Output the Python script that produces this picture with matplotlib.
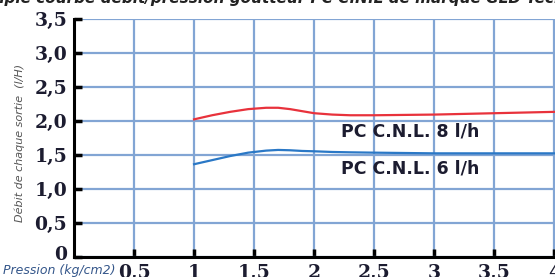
import matplotlib.pyplot as plt
import matplotlib.transforms as mtransforms
import numpy as np

# pressure (kg/cm2) and flow per outlet (l/h)
pression = [1.0, 1.15, 1.3, 1.45, 1.6, 1.7, 1.8, 1.9, 2.0, 2.15, 2.3, 2.5, 3.0, 3.5, 4.0]
debit_8 = [2.02, 2.08, 2.13, 2.17, 2.19, 2.19, 2.17, 2.14, 2.11, 2.09, 2.08, 2.08, 2.09, 2.11, 2.13]
debit_6 = [1.36, 1.42, 1.48, 1.53, 1.56, 1.57, 1.565, 1.555, 1.55, 1.54, 1.535, 1.53, 1.52, 1.52, 1.52]

xticks = [0.5, 1, 1.5, 2, 2.5, 3, 3.5, 4]
xlabels = ["0,5", "1", "1,5", "2", "2,5", "3", "3,5", "4"]
yticks = [0, 0.5, 1.0, 1.5, 2.0, 2.5, 3.0, 3.5]
ylabels = ["0", "0,5", "1,0", "1,5", "2,0", "2,5", "3,0", "3,5"]

gridc = '#82a5d4'
txtc = '#1c1c30'

fig = plt.figure(figsize=(5.55, 2.77), dpi=100)
ax = fig.add_axes([0.1333, 0.0733, 0.8667, 0.8592])

ax.plot(pression, debit_8, color='#e8323c', lw=1.6, zorder=3)
ax.plot(pression, debit_6, color='#2a78c6', lw=1.6, zorder=3)

ax.set_xlim(0, 4.005)
ax.set_ylim(0, 3.5)
ax.set_xticks(xticks)
ax.set_xticklabels(xlabels)
ax.set_yticks(yticks)
ax.set_yticklabels(ylabels)
ax.grid(True, color=gridc, lw=1.6, zorder=1)
ax.set_axisbelow(True)

for s in ['top', 'right']:
    ax.spines[s].set_visible(False)
for s in ['left', 'bottom']:
    ax.spines[s].set_linewidth(2.2)
    ax.spines[s].set_color('black')
    ax.spines[s].set_zorder(4)

ax.tick_params(direction='in', length=6, width=2.5, color='black', pad=5,
               labelsize=13.5, labelcolor=txtc)
for lab in ax.get_xticklabels() + ax.get_yticklabels():
    lab.set_family('DejaVu Serif')
    lab.set_weight('bold')

# the "0" label sits a little above the axis line
zero = ax.get_yticklabels()[0]
zero.set_transform(zero.get_transform() +
                   mtransforms.ScaledTranslation(0, 4 / 100, fig.dpi_scale_trans))

ax.text(2.22, 1.84, "PC C.N.L. 8 l/h", fontsize=12.5, weight='bold', color=txtc,
        va='center', ha='left', zorder=5)
ax.text(2.22, 1.30, "PC C.N.L. 6 l/h", fontsize=12.5, weight='bold', color=txtc,
        va='center', ha='left', zorder=5)

fig.text(0.005, 0.022, "Pression (kg/cm2)", fontsize=9, style='italic',
         color='#34568a', va='center', ha='left')
fig.text(0.036, 0.484, "Débit de chaque sortie  (l/H)", fontsize=8,
         style='italic', color='#555555', rotation=90, va='center', ha='center')

fig.text(-0.075, 0.99, "Exemple courbe débit/pression goutteur PC C.N.L de marque GLD Tecnoirriga",
         fontsize=11, style='italic', weight='bold', color='#222222',
         va='baseline', ha='left')

fig.savefig("out.png", dpi=100)
